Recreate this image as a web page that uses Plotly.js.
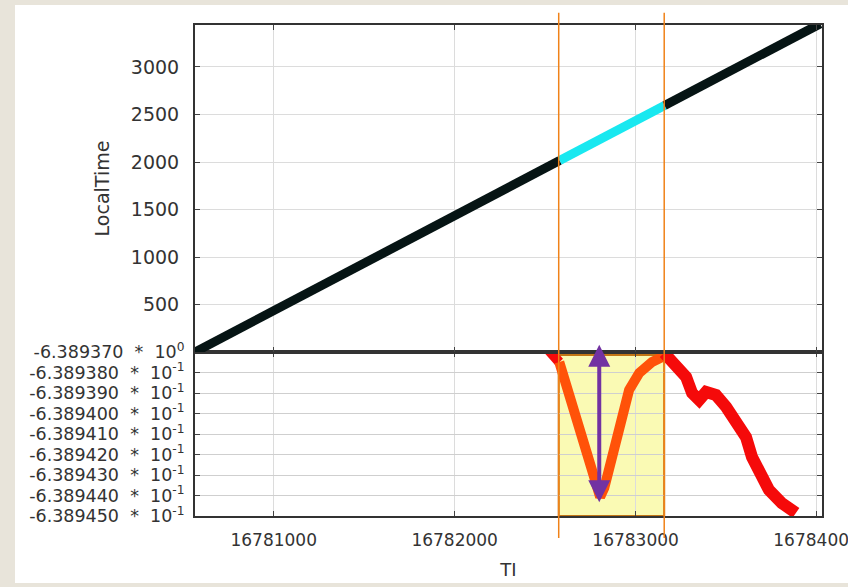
<!DOCTYPE html>
<html>
<head>
<meta charset="utf-8">
<script src="https://cdn.plot.ly/plotly-3.0.1.min.js"></script>
<style>
html,body{margin:0;padding:0;width:848px;height:587px;background:#e8e4da;overflow:hidden;}
#chart{position:absolute;left:15px;top:5px;width:833px;height:578px;overflow:hidden;}
</style>
</head>
<body>
<div id="chart"></div>
<script>
// ---- Top panel: LocalTime vs TI ----
const tiBlackA = [16780565, 16782580];
const ltBlackA = [0, 2015];
const tiCyan = [16782580, 16783160];
const ltCyan = [2015, 2595];
const tiBlackB = [16783160, 16784020];
const ltBlackB = [2595, 3455];

// ---- Bottom panel: value vs TI ----
const tiRedA = [16782518, 16782578];
const valRedA = [-6.3893690, -6.3893749];
const tiOrange = [16782578, 16782804, 16782827, 16782854, 16782887, 16782926, 16782964, 16783020, 16783091, 16783158];
const valOrange = [-6.3893749, -6.3894407, -6.3894363, -6.3894266, -6.3894129, -6.3893998, -6.3893885, -6.3893802, -6.3893749, -6.3893720];
const tiRedB = [16783158, 16783224, 16783279, 16783312, 16783351, 16783389, 16783444, 16783500, 16783555, 16783610, 16783643, 16783682, 16783737, 16783808, 16783886];
const valRedB = [-6.3893705, -6.3893773, -6.3893822, -6.3893900, -6.3893934, -6.3893895, -6.3893910, -6.3893968, -6.3894032, -6.3894115, -6.3894212, -6.3894276, -6.3894373, -6.3894437, -6.3894485];

// ---- Axis ticks ----
const xTickVals = [16781000, 16782000, 16783000, 16784000];
const xTickText = ['16781000', '16782000', '16783000', '16784000'];
const yTopTicks = [500, 1000, 1500, 2000, 2500, 3000];
const yBotTicks = [-6.389370, -6.389380, -6.389390, -6.389400, -6.389410, -6.389420, -6.389430, -6.389440, -6.389450];
const yBotMant = ['-6.389370', '-6.389380', '-6.389390', '-6.389400', '-6.389410', '-6.389420', '-6.389430', '-6.389440', '-6.389450'];
const yBotExp = ['0', '-1', '-1', '-1', '-1', '-1', '-1', '-1', '-1'];
const yBotText = yBotMant.map((m, i) => m + '\u00A0\u00A0*\u00A0\u00A010<sup>' + yBotExp[i] + '</sup>');

// highlight window
const winX = [16782575, 16783158];
const arrowX = 16782799;

const fam = 'DejaVu Sans, Arial, sans-serif';
const fnt = {family: fam, size: 17, color: '#333'};

const traces = [
  {x: tiBlackA, y: ltBlackA, xaxis: 'x2', yaxis: 'y', mode: 'lines', line: {color: '#061414', width: 9}, cliponaxis: false},
  {x: tiCyan, y: ltCyan, xaxis: 'x2', yaxis: 'y', mode: 'lines', line: {color: '#19e8f0', width: 9}},
  {x: tiBlackB, y: ltBlackB, xaxis: 'x2', yaxis: 'y', mode: 'lines', line: {color: '#061414', width: 9}, cliponaxis: false},
  {x: tiRedA, y: valRedA, xaxis: 'x', yaxis: 'y2', mode: 'lines', line: {color: '#f50a0a', width: 10}, cliponaxis: false},
  {x: tiOrange, y: valOrange, xaxis: 'x', yaxis: 'y2', mode: 'lines', line: {color: '#ff5209', width: 10}, cliponaxis: false},
  {x: tiRedB, y: valRedB, xaxis: 'x', yaxis: 'y2', mode: 'lines', line: {color: '#f50a0a', width: 12}, cliponaxis: false}
];

const gridC = '#dcdcdc';
const layout = {
  width: 833, height: 578,
  margin: {l: 180, r: 26, t: 20, b: 67},
  paper_bgcolor: '#ffffff',
  plot_bgcolor: '#ffffff',
  showlegend: false,
  font: fnt,
  xaxis: {
    domain: [0, 1], anchor: 'y2', range: [16780565, 16784030],
    tickvals: xTickVals, ticktext: xTickText, ticks: 'inside', ticklen: 5,
    tickcolor: '#444', showline: true, linecolor: '#333', linewidth: 2, mirror: 'ticks',
    showgrid: true, gridcolor: gridC, zeroline: false, tickfont: {family: fam, size: 17, color: '#333'},
    ticklabelstandoff: 8, ticklabeloverflow: 'allow',
    title: {text: 'TI', font: {family: fam, size: 18, color: '#333'}, standoff: 14}
  },
  xaxis2: {
    domain: [0, 1], anchor: 'y', matches: 'x', range: [16780565, 16784030],
    tickvals: xTickVals, showticklabels: false, ticks: 'inside', ticklen: 5,
    tickcolor: '#444', showline: true, linecolor: '#333', linewidth: 2, mirror: 'ticks',
    showgrid: true, gridcolor: gridC, zeroline: false
  },
  yaxis: {
    domain: [0.334, 1], anchor: 'x2', range: [0, 3442],
    tickvals: yTopTicks, ticks: 'inside', ticklen: 5, tickcolor: '#444',
    showline: true, linecolor: '#333', linewidth: 2, mirror: 'ticks',
    showgrid: true, gridcolor: gridC, zeroline: false, tickfont: {family: fam, size: 19, color: '#333'},
    ticklabelstandoff: 10,
    title: {text: 'LocalTime', font: {family: fam, size: 19, color: '#333'}, standoff: 16}
  },
  yaxis2: {
    domain: [0, 0.334], anchor: 'x', range: [-6.389450, -6.389370],
    tickvals: yBotTicks, ticktext: yBotText, ticks: 'inside', ticklen: 5, tickcolor: '#444',
    showline: true, linecolor: '#333', linewidth: 2, mirror: 'ticks',
    showgrid: true, gridcolor: '#cfcfcf', zeroline: false, tickfont: {family: fam, size: 17.5, color: '#333'},
    ticklabelstandoff: 5, ticklabeloverflow: 'allow'
  },
  shapes: [
    {type: 'rect', xref: 'x', yref: 'y2', x0: winX[0], x1: winX[1], y0: -6.389450, y1: -6.3893715,
     fillcolor: '#fafab4', line: {color: '#c27516', width: 2}, layer: 'below'},
    {type: 'line', xref: 'x', yref: 'paper', x0: winX[0], x1: winX[0], y0: -0.045, y1: 1.025,
     line: {color: '#f08218', width: 1.5}},
    {type: 'line', xref: 'x', yref: 'paper', x0: winX[1], x1: winX[1], y0: -0.045, y1: 1.025,
     line: {color: '#f08218', width: 1.5}}
  ],
  annotations: [
    {x: arrowX, y: -6.3893665, xref: 'x', yref: 'y2', ax: arrowX, ay: -6.3894440, axref: 'x', ayref: 'y2',
     text: '', showarrow: true, arrowhead: 2, arrowside: 'end+start', arrowwidth: 4, arrowsize: 1.1, arrowcolor: '#7232a2'}
  ]
};

Plotly.newPlot('chart', traces, layout, {displayModeBar: false, staticPlot: true});
</script>
</body>
</html>
